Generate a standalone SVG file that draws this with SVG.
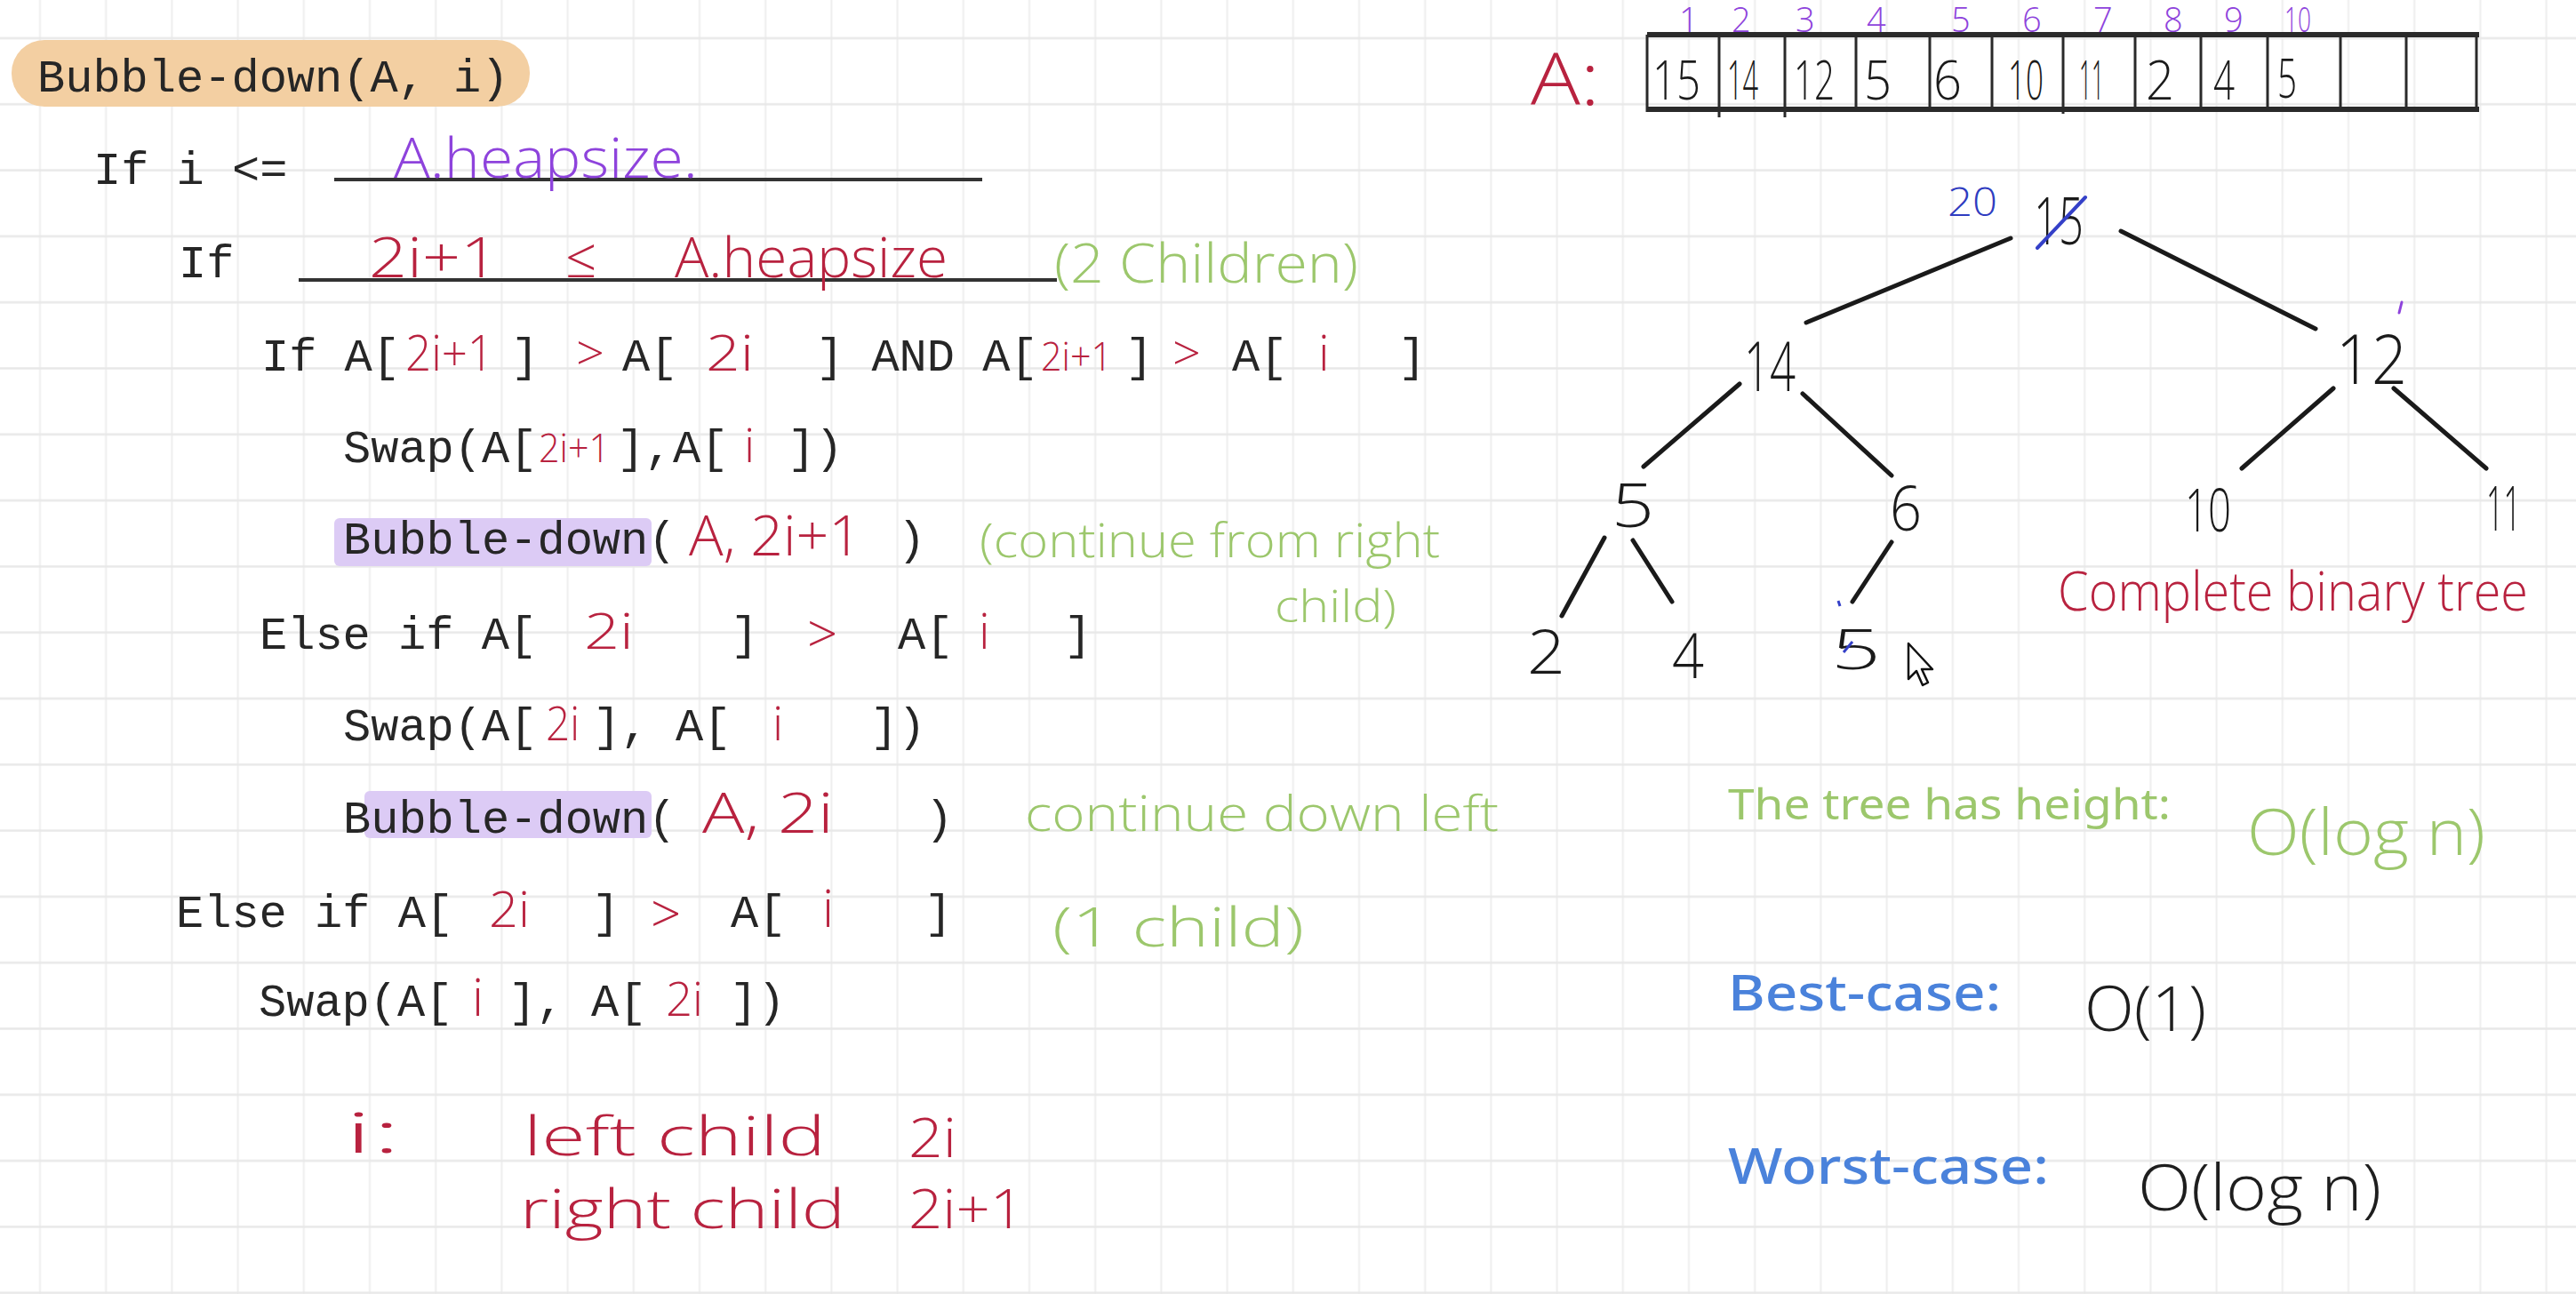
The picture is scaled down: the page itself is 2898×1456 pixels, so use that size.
<svg xmlns="http://www.w3.org/2000/svg" width="2898" height="1456" viewBox="0 0 2898 1456" xml:space="preserve">
<style>
.code{font-family:"Liberation Mono","DejaVu Sans Mono",monospace;font-size:52px;fill:#262626;white-space:pre}
.hw{font-family:"Open Sans","Noto Sans",sans-serif;font-weight:300}
.red{fill:#b8223f}
.pur{fill:#8e43dc}
.grn{fill:#9cc76c}
.blk{fill:#1e1e1e}
.blue{fill:#2f3cc0}
.num{font-family:"Open Sans","Noto Sans",sans-serif;font-weight:300;fill:#1a1a1a}
.ttl{font-family:"Noto Sans","Open Sans",sans-serif}
.edge{stroke:#1a1a1a;stroke-width:5;stroke-linecap:round;fill:none}
.ul{stroke:#333;stroke-width:4}
</style>
<defs>
<pattern id="grid" patternUnits="userSpaceOnUse" x="7.9" y="5.85" width="74.2" height="74.3">
<line x1="37.1" y1="0" x2="37.1" y2="74.3" stroke="#eeeeee" stroke-width="2"/>
<line x1="0" y1="37.15" x2="74.2" y2="37.15" stroke="#e8e8e8" stroke-width="2.5"/>
</pattern>
</defs>
<rect width="2898" height="1456" fill="#ffffff"/>
<rect width="2898" height="1456" fill="url(#grid)"/>

<g id="pseudocode">
<rect x="13" y="45" width="583" height="75" rx="37" fill="#f3cfa2"/>
<rect x="376" y="583" width="357" height="54" rx="6" fill="#dccbf5"/>
<rect x="410" y="890" width="323" height="53" rx="6" fill="#dccbf5"/>
<text class="code" x="42" y="103">Bubble-down(A, i)</text>

<text class="code" x="105" y="207">If i &lt;=</text>
<line class="ul" x1="376" y1="202" x2="1105" y2="202"/>
<text class="hw pur" x="443" y="200" font-size="62" textLength="342" lengthAdjust="spacingAndGlyphs">A.heapsize.</text>

<text class="code" x="201" y="312">If</text>
<line class="ul" x1="336" y1="315" x2="1189" y2="315"/>
<text class="hw red" x="415" y="312" font-size="62" textLength="146" lengthAdjust="spacingAndGlyphs">2i+1</text>
<text class="hw red" x="636" y="312" font-size="62">≤</text>
<text class="hw red" x="759" y="312" font-size="62" textLength="307" lengthAdjust="spacingAndGlyphs">A.heapsize</text>
<text class="hw grn" x="1186" y="318" font-size="60" textLength="342" lengthAdjust="spacingAndGlyphs">(2 Children)</text>

<text class="code" x="294" y="417">If A[</text>
<text class="hw red" x="456" y="417" font-size="56" textLength="99" lengthAdjust="spacingAndGlyphs">2i+1</text>
<text class="code" x="575" y="417">]</text>
<text class="hw red" x="648" y="417" font-size="56">&gt;</text>
<text class="code" x="700" y="417">A[</text>
<text class="hw red" x="794" y="417" font-size="56" textLength="54" lengthAdjust="spacingAndGlyphs">2i</text>
<text class="code" x="918" y="417">] AND A[</text>
<text class="hw red" x="1171" y="417" font-size="44" textLength="80" lengthAdjust="spacingAndGlyphs">2i+1</text>
<text class="code" x="1266" y="417">]</text>
<text class="hw red" x="1319" y="417" font-size="56">&gt;</text>
<text class="code" x="1386" y="417">A[</text>
<text class="hw red" x="1483" y="417" font-size="56">i</text>
<text class="code" x="1573" y="417">]</text>

<text class="code" x="386" y="520">Swap(A[</text>
<text class="hw red" x="606" y="520" font-size="44" textLength="80" lengthAdjust="spacingAndGlyphs">2i+1</text>
<text class="code" x="694" y="520">],</text>
<text class="code" x="757" y="520">A[</text>
<text class="hw red" x="837" y="520" font-size="54">i</text>
<text class="code" x="886" y="520">])</text>

<text class="code" x="386" y="623">Bubble-down(</text>
<text class="hw red" x="775" y="625" font-size="62" textLength="194" lengthAdjust="spacingAndGlyphs">A, 2i+1</text>
<text class="code" x="1010" y="623">)</text>
<text class="hw grn" x="1102" y="627" font-size="54" textLength="518" lengthAdjust="spacingAndGlyphs">(continue from right</text>
<text class="hw grn" x="1434" y="700" font-size="50" textLength="137" lengthAdjust="spacingAndGlyphs">child)</text>

<text class="code" x="292" y="730">Else if A[</text>
<text class="hw red" x="657" y="730" font-size="56" textLength="56" lengthAdjust="spacingAndGlyphs">2i</text>
<text class="code" x="822" y="730">]</text>
<text class="hw red" x="908" y="735" font-size="60">&gt;</text>
<text class="code" x="1010" y="730">A[</text>
<text class="hw red" x="1101" y="730" font-size="56">i</text>
<text class="code" x="1197" y="730">]</text>

<text class="code" x="386" y="833">Swap(A[</text>
<text class="hw red" x="614" y="833" font-size="54" textLength="38" lengthAdjust="spacingAndGlyphs">2i</text>
<text class="code" x="667" y="833">],</text>
<text class="code" x="760" y="833">A[</text>
<text class="hw red" x="869" y="833" font-size="54">i</text>
<text class="code" x="979" y="833">])</text>

<text class="code" x="386" y="937">Bubble-down(</text>
<text class="hw red" x="790" y="937" font-size="62" textLength="148" lengthAdjust="spacingAndGlyphs">A, 2i</text>
<text class="code" x="1041" y="937">)</text>
<text class="hw grn" x="1153" y="935" font-size="56" textLength="533" lengthAdjust="spacingAndGlyphs">continue down left</text>

<text class="code" x="198" y="1043">Else if A[</text>
<text class="hw red" x="550" y="1043" font-size="56" textLength="46" lengthAdjust="spacingAndGlyphs">2i</text>
<text class="code" x="666" y="1043">]</text>
<text class="hw red" x="732" y="1050" font-size="60">&gt;</text>
<text class="code" x="822" y="1043">A[</text>
<text class="hw red" x="925" y="1043" font-size="58">i</text>
<text class="code" x="1040" y="1043">]</text>
<text class="hw grn" x="1184" y="1065" font-size="60" textLength="283" lengthAdjust="spacingAndGlyphs">(1 child)</text>

<text class="code" x="291" y="1143">Swap(A[</text>
<text class="hw red" x="531" y="1143" font-size="58">i</text>
<text class="code" x="572" y="1143">],</text>
<text class="code" x="665" y="1143">A[</text>
<text class="hw red" x="749" y="1143" font-size="54" textLength="42" lengthAdjust="spacingAndGlyphs">2i</text>
<text class="code" x="821" y="1143">])</text>

<text class="hw red" x="388" y="1297" font-size="62" textLength="63" lengthAdjust="spacingAndGlyphs">i:</text>
<text class="hw red" x="589" y="1300" font-size="60"><tspan textLength="340" lengthAdjust="spacingAndGlyphs">left child</tspan><tspan x="585" y="1382" textLength="366" lengthAdjust="spacingAndGlyphs">right child</tspan></text>
<text class="hw red" x="1022" y="1302" font-size="60"><tspan textLength="54" lengthAdjust="spacingAndGlyphs">2i</tspan><tspan x="1022" y="1382" textLength="130" lengthAdjust="spacingAndGlyphs">2i+1</tspan></text>
</g>

<g id="array">
<text class="hw red" x="1722" y="118" font-size="82" textLength="78" lengthAdjust="spacingAndGlyphs">A:</text>
<line x1="1853" y1="39" x2="2789" y2="39" stroke="#2a2a2a" stroke-width="6"/>
<line x1="1853" y1="123" x2="2789" y2="123" stroke="#2a2a2a" stroke-width="6"/>
<g stroke="#2a2a2a" stroke-width="3">
<line x1="1853" y1="39" x2="1853" y2="126"/>
<line x1="1934" y1="39" x2="1934" y2="132"/>
<line x1="2008" y1="39" x2="2008" y2="132"/>
<line x1="2088" y1="39" x2="2088" y2="126"/>
<line x1="2171" y1="39" x2="2171" y2="126"/>
<line x1="2241" y1="39" x2="2241" y2="126"/>
<line x1="2321" y1="39" x2="2321" y2="128"/>
<line x1="2402" y1="39" x2="2402" y2="126"/>
<line x1="2476" y1="39" x2="2476" y2="126"/>
<line x1="2551" y1="39" x2="2551" y2="126"/>
<line x1="2633" y1="39" x2="2633" y2="126"/>
<line x1="2707" y1="39" x2="2707" y2="126"/>
<line x1="2786" y1="39" x2="2786" y2="126"/>
</g>
<g class="num" font-size="60">
<text x="1859" y="112" textLength="54" lengthAdjust="spacingAndGlyphs">15</text>
<text x="1943" y="112" textLength="35" lengthAdjust="spacingAndGlyphs">14</text>
<text x="2018" y="112" textLength="46" lengthAdjust="spacingAndGlyphs">12</text>
<text x="2097" y="112" textLength="31" lengthAdjust="spacingAndGlyphs">5</text>
<text x="2175" y="112" textLength="32" lengthAdjust="spacingAndGlyphs">6</text>
<text x="2259" y="112" textLength="40" lengthAdjust="spacingAndGlyphs">10</text>
<text x="2339" y="112" textLength="28" lengthAdjust="spacingAndGlyphs">11</text>
<text x="2414" y="112" textLength="32" lengthAdjust="spacingAndGlyphs">2</text>
<text x="2490" y="112" textLength="24" lengthAdjust="spacingAndGlyphs">4</text>
<text x="2562" y="110" textLength="22" lengthAdjust="spacingAndGlyphs">5</text>
</g>
<g class="hw pur" font-size="38">
<text x="1889" y="36">1</text>
<text x="1948" y="36">2</text>
<text x="2020" y="36">3</text>
<text x="2100" y="36">4</text>
<text x="2195" y="36">5</text>
<text x="2275" y="36">6</text>
<text x="2355" y="36">7</text>
<text x="2434" y="36">8</text>
<text x="2502" y="36">9</text>
<text x="2570" y="36" textLength="30" lengthAdjust="spacingAndGlyphs">10</text>
</g>
</g>

<g id="tree-edges">
<line class="edge" x1="2262" y1="268" x2="2032" y2="363"/>
<line class="edge" x1="2386" y1="260" x2="2605" y2="370"/>
<line class="edge" x1="1957" y1="432" x2="1849" y2="525"/>
<line class="edge" x1="2028" y1="443" x2="2128" y2="535"/>
<line class="edge" x1="2625" y1="437" x2="2522" y2="527"/>
<line class="edge" x1="2693" y1="437" x2="2797" y2="527"/>
<line class="edge" x1="1805" y1="605" x2="1757" y2="693"/>
<line class="edge" x1="1837" y1="608" x2="1881" y2="677"/>
<line class="edge" x1="2128" y1="610" x2="2084" y2="677"/>
</g>

<g id="node-root">
<text class="num" x="2288" y="275" font-size="74" textLength="56" lengthAdjust="spacingAndGlyphs">15</text>
<line x1="2292" y1="279" x2="2346" y2="222" stroke="#3440c8" stroke-width="4" stroke-linecap="round"/>
<text class="hw blue" x="2191" y="243" font-size="44" textLength="56" lengthAdjust="spacingAndGlyphs">20</text>
</g>
<g id="node-14"><text class="num" x="1962" y="440" font-size="78" textLength="58" lengthAdjust="spacingAndGlyphs">14</text></g>
<g id="node-12"><text class="num" x="2628" y="432" font-size="78" textLength="80" lengthAdjust="spacingAndGlyphs">12</text>
<line x1="2702" y1="340" x2="2699" y2="352" stroke="#8e43dc" stroke-width="3" stroke-linecap="round"/></g>
<g id="node-5a"><text class="num" x="1813" y="593" font-size="68" textLength="48" lengthAdjust="spacingAndGlyphs">5</text></g>
<g id="node-6"><text class="num" x="2126" y="597" font-size="70" textLength="36" lengthAdjust="spacingAndGlyphs">6</text></g>
<g id="node-10"><text class="num" x="2458" y="598" font-size="66" textLength="52" lengthAdjust="spacingAndGlyphs">10</text></g>
<g id="node-11"><text class="num" x="2797" y="597" font-size="70" textLength="39" lengthAdjust="spacingAndGlyphs">11</text></g>
<g id="node-2"><text class="num" x="1718" y="758" font-size="68" textLength="43" lengthAdjust="spacingAndGlyphs">2</text></g>
<g id="node-4"><text class="num" x="1881" y="763" font-size="70" textLength="36" lengthAdjust="spacingAndGlyphs">4</text></g>
<g id="node-5b"><text class="num" x="2060" y="753" font-size="62" textLength="56" lengthAdjust="spacingAndGlyphs">5</text>
<line x1="2068" y1="676" x2="2070" y2="682" stroke="#3440c8" stroke-width="3"/>
<line x1="2084" y1="722" x2="2074" y2="734" stroke="#3440c8" stroke-width="3"/></g>

<g id="cursor">
<path d="M2147 724 L2147 764 L2156 755 L2163 771 L2169 768 L2162 753 L2174 753 Z" fill="#ffffff" stroke="#111" stroke-width="2.5" stroke-linejoin="round"/>
</g>

<text class="hw red" x="2315" y="687" font-size="60" textLength="529" lengthAdjust="spacingAndGlyphs">Complete binary tree</text>

<g id="complexity">
<text class="ttl grn" x="1944" y="922" font-size="48" textLength="498" lengthAdjust="spacingAndGlyphs">The tree has height:</text>
<text class="hw grn" x="2528" y="962" font-size="72" textLength="268" lengthAdjust="spacingAndGlyphs">O(log n)</text>
<text class="ttl" x="1944" y="1137" font-size="56" font-weight="500" fill="#4a82db" textLength="307" lengthAdjust="spacingAndGlyphs">Best-case:</text>
<text class="hw blk" x="2345" y="1160" font-size="70" textLength="137" lengthAdjust="spacingAndGlyphs">O(1)</text>
<text class="ttl" x="1944" y="1332" font-size="56" font-weight="500" fill="#4a82db" textLength="361" lengthAdjust="spacingAndGlyphs">Worst-case:</text>
<text class="hw blk" x="2405" y="1362" font-size="72" textLength="274" lengthAdjust="spacingAndGlyphs">O(log n)</text>
</g>
</svg>
